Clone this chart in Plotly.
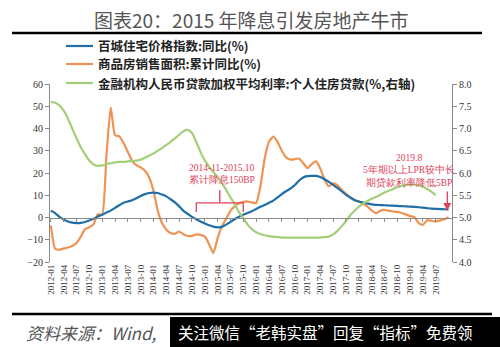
import plotly.graph_objects as go
import pandas as pd

months = [d.strftime("%Y-%m") for d in pd.date_range("2012-01-01", "2019-10-01", freq="MS")]
tick_labels = months[::3][:31]

price_yoy = [3.0, 2.0, 0.3, -0.9, -1.8, -2.3, -2.5, -2.4, -2.0, -1.3, -0.6, 0.5,
             1.2, 2.2, 3.1, 4.3, 5.5, 6.6, 7.2, 7.8, 8.7, 9.7, 10.5, 11.0,
             11.2, 11.0, 10.3, 9.5, 8.2, 6.8, 5.0, 3.0, 1.6, 0.3, -0.8, -1.8,
             -2.7, -3.5, -4.1, -4.4, -4.2, -3.2, -2.0, -0.8, 0.3, 1.2, 2.0, 2.8,
             3.8, 4.8, 5.6, 6.6, 7.6, 9.0, 10.5, 11.8, 13.0, 14.5, 16.5, 18.0,
             18.6, 18.7, 18.7, 18.2, 17.2, 16.0, 14.7, 13.3, 11.8, 10.2, 9.0, 7.9,
             7.2, 6.7, 6.3, 5.9, 5.7, 5.6, 5.5, 5.4, 5.3, 5.2, 5.1, 5.0,
             4.9, 4.8, 4.6, 4.4, 4.2, 4.0, 3.9, 3.8, 3.7, 3.6]

sales_yoy = [-3.5, -14.0, -14.5, -13.9, -13.5, -12.8, -11.5, -8.6, -5.2, -4.4, -3.0, 1.5,
             1.2, 28.0, 49.5, 37.0, 36.5, 33.5, 29.5, 25.5, 23.5, 22.5, 21.0, 18.0,
             12.0, 3.0, -2.5, -5.5, -7.0, -7.3, -6.3, -7.5, -8.3, -8.3, -7.6, -7.8,
             -8.5, -12.0, -16.0, -9.3, -4.0, -0.5, 3.0, 5.0, 6.4, 7.0, 7.2, 6.8,
             6.5, 14.0, 26.5, 34.0, 36.4, 34.0, 30.0, 27.0, 26.0, 26.2, 26.5, 24.5,
             22.2, 24.0, 25.2, 22.0, 17.0, 14.0, 15.4, 14.5, 12.4, 10.8, 9.0, 7.8,
             7.2, 6.2, 5.0, 3.2, 1.9, 3.0, 3.4, 3.0, 2.7, 2.5, 2.0, 1.4,
             0.6, 0.2, -2.5, -3.3, -1.2, -1.5, -1.8, -1.3, -0.8, 0.1]

mortgage_rate = [7.60, 7.58, 7.52, 7.40, 7.22, 7.00, 6.78, 6.58, 6.42, 6.28, 6.19, 6.16,
                 6.17, 6.20, 6.22, 6.24, 6.25, 6.25, 6.26, 6.27, 6.28, 6.30, 6.34, 6.39,
                 6.44, 6.50, 6.56, 6.63, 6.70, 6.78, 6.86, 6.94, 6.97, 6.90, 6.70, 6.47,
                 6.28, 6.14, 6.02, 5.91, 5.77, 5.62, 5.45, 5.30, 5.12, 4.98, 4.84, 4.74,
                 4.67, 4.63, 4.60, 4.58, 4.57, 4.56, 4.55, 4.55, 4.55, 4.55, 4.55, 4.55,
                 4.55, 4.55, 4.55, 4.55, 4.56, 4.57, 4.62, 4.70, 4.80, 4.92, 5.05, 5.15,
                 5.24, 5.31, 5.37, 5.42, 5.46, 5.51, 5.56, 5.60, 5.64, 5.68, 5.71, 5.73,
                 5.74, 5.74, 5.72, 5.69, 5.64, 5.58, 5.50]

series_names = ["百城住宅价格指数:同比(%)", "商品房销售面积:累计同比(%)",
                "金融机构人民币贷款加权平均利率:个人住房贷款(%,右轴)"]
colors = ["#1f6ea6", "#ee9352", "#a3cf78"]

idx = list(range(len(months)))
fig = go.Figure()
fig.add_trace(go.Scatter(x=idx[:len(mortgage_rate)], y=mortgage_rate, yaxis="y2", mode="lines",
                         line=dict(color=colors[2], width=2.2, shape="spline", smoothing=0.6),
                         name=series_names[2], showlegend=False))
fig.add_trace(go.Scatter(x=idx[:len(sales_yoy)], y=sales_yoy, mode="lines",
                         line=dict(color=colors[1], width=2.2, shape="spline", smoothing=0.5),
                         name=series_names[1], showlegend=False))
fig.add_trace(go.Scatter(x=idx[:len(price_yoy)], y=price_yoy, mode="lines",
                         line=dict(color=colors[0], width=2.2, shape="spline", smoothing=0.6),
                         name=series_names[0], showlegend=False))
# helper trace for the zero-line axis
fig.add_trace(go.Scatter(x=[0], y=[0], xaxis="x2", mode="markers", marker=dict(opacity=0),
                         showlegend=False, hoverinfo="skip"))

tickvals = list(range(0, 91, 3))
serif = "Liberation Serif"
cjk = "Noto Sans CJK SC"
red = "#e0405a"

fig.update_layout(
    width=500, height=347,
    margin=dict(l=50, r=48, t=84, b=85),
    paper_bgcolor="white", plot_bgcolor="white",
    xaxis=dict(range=[-0.2, 93.8], tickvals=tickvals, ticktext=tick_labels, tickangle=-90,
               showgrid=False, zeroline=False, showline=False, ticks="",
               tickfont=dict(family=serif, size=9, color="#333")),
    xaxis2=dict(range=[-0.2, 93.8], overlaying="x", anchor="free", position=0.25,
                showline=True, linecolor="#8a8a8a", linewidth=1, ticks="outside", ticklen=3,
                tickcolor="#8a8a8a", tickvals=tickvals, showticklabels=False, showgrid=False,
                zeroline=False),
    yaxis=dict(range=[-20, 60], dtick=10, showgrid=False, zeroline=False, showline=True,
               linecolor="#8a8a8a", ticks="outside", ticklen=4, tickcolor="#8a8a8a",
               tickfont=dict(family=serif, size=10, color="#333")),
    yaxis2=dict(range=[4, 8], dtick=0.5, tickformat=".1f", overlaying="y", side="right",
                showgrid=False, zeroline=False, showline=True, linecolor="#8a8a8a",
                ticks="outside", ticklen=4, tickcolor="#8a8a8a",
                tickfont=dict(family=serif, size=10, color="#333")),
    showlegend=False,
)

def px_x(px):
    return (px - 50) / 402.0

def px_y(py):
    return (262 - py) / 178.0

shapes = []
annotations = []

# title and rules
annotations.append(dict(text="图表20：2015 年降息引发房地产牛市", xref="paper", yref="paper",
                        x=px_x(251), y=px_y(19), xanchor="center", yanchor="middle",
                        showarrow=False, font=dict(family=cjk, size=19, color="#555")))
shapes.append(dict(type="line", xref="paper", yref="paper", x0=px_x(12), x1=px_x(482),
                   y0=px_y(33), y1=px_y(33), line=dict(color="black", width=2.5)))
shapes.append(dict(type="line", xref="paper", yref="paper", x0=px_x(12), x1=px_x(492),
                   y0=px_y(314), y1=px_y(314), line=dict(color="black", width=2.5)))

# legend
for i, (yy, nm) in enumerate(zip([46, 64, 83], series_names)):
    shapes.append(dict(type="line", xref="paper", yref="paper", x0=px_x(66), x1=px_x(93),
                       y0=px_y(yy), y1=px_y(yy), line=dict(color=colors[i], width=2.2)))
    annotations.append(dict(text="<b>" + nm + "</b>", xref="paper", yref="paper",
                            x=px_x(96), y=px_y(yy), xanchor="left", yanchor="middle",
                            showarrow=False, font=dict(family=cjk, size=12.5, color="#222")))

# 2014-11 ~ 2015-10 bracket
b0, b1 = 34, 45
bm = (b0 + b1) / 2
for sh in [dict(x0=b0, x1=b1, y0=6.6, y1=6.6), dict(x0=b0, x1=b0, y0=6.6, y1=2.5),
           dict(x0=b1, x1=b1, y0=6.6, y1=2.5), dict(x0=bm, x1=bm, y0=6.6, y1=12.4)]:
    shapes.append(dict(type="line", xref="x", yref="y", line=dict(color=red, width=1.3), **sh))
annotations.append(dict(text="2014-11-2015.10<br>累计降息150BP", xref="x", yref="y",
                        x=bm + 0.6, y=19.5, showarrow=False, align="left",
                        font=dict(family=serif, size=9.5, color=red)))

# 2019.8 note
annotations.append(dict(text="2019.8<br>5年期以上LPR较中长<br>期贷款利率降低5BP", xref="x", yref="y",
                        x=83.8, y=21.2, showarrow=False, align="center",
                        font=dict(family=serif, size=9.5, color=red)))
annotations.append(dict(x=92.7, y=3.0, ax=92.7, ay=12.4, xref="x", yref="y",
                        axref="x", ayref="y", showarrow=True, arrowhead=2, arrowsize=1.2,
                        arrowwidth=1.3, arrowcolor=red, text=""))

# source footer
annotations.append(dict(text="<i>资料来源：Wind,</i>", xref="paper", yref="paper",
                        x=px_x(24), y=px_y(332), xanchor="left", yanchor="middle",
                        showarrow=False, font=dict(family=cjk, size=17, color="#555")))
shapes.append(dict(type="rect", xref="paper", yref="paper", x0=px_x(170), x1=px_x(502),
                   y0=px_y(317), y1=px_y(349), fillcolor="black", line=dict(width=0)))
annotations.append(dict(text="关注微信“老韩实盘”回复“指标”免费领", xref="paper", yref="paper",
                        x=px_x(176), y=px_y(332), xanchor="left", yanchor="middle",
                        showarrow=False, font=dict(family=cjk, size=15.5, color="white")))

fig.update_layout(shapes=shapes, annotations=annotations)
fig.write_html("out.html")
